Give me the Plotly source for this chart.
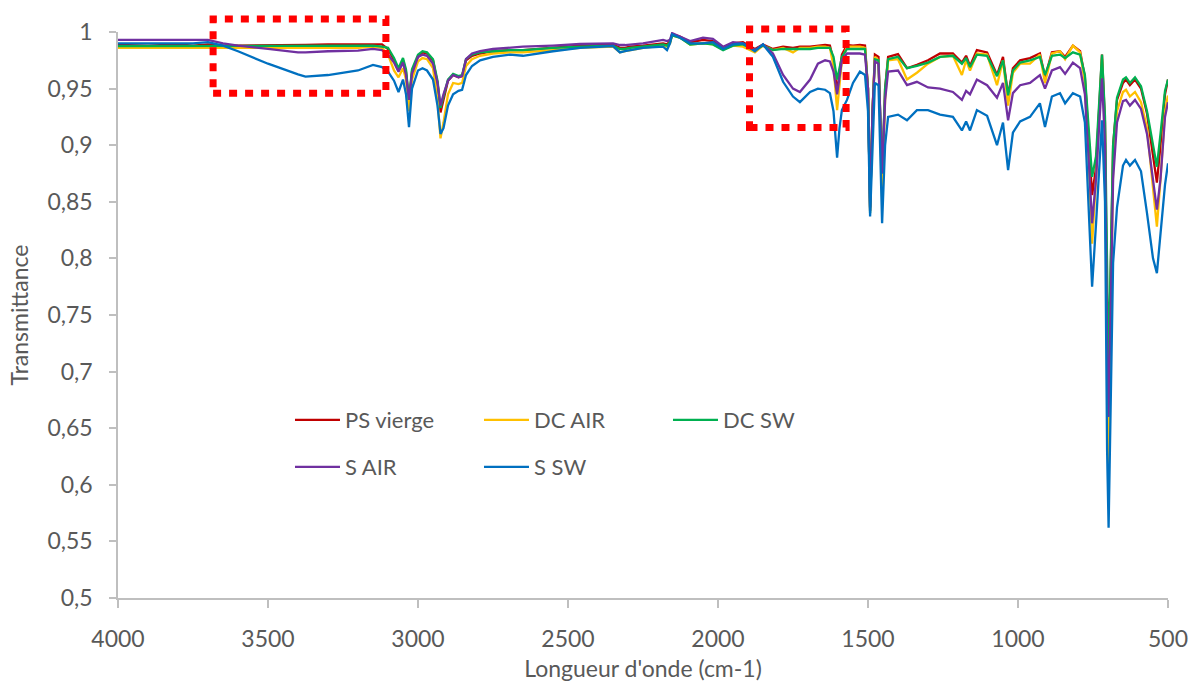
import plotly.graph_objects as go

wavenumber = [4000, 3900, 3800, 3750, 3700, 3650, 3600, 3500, 3400, 3375,
              3300, 3200, 3150, 3120, 3100, 3080, 3065, 3050, 3040, 3030,
              3020, 3000, 2985, 2970, 2950, 2935, 2925, 2915, 2900, 2883,
              2865, 2853, 2840, 2820, 2793, 2750, 2693, 2650, 2550, 2460,
              2350, 2327, 2310, 2293, 2250, 2183, 2170, 2160, 2153, 2127,
              2093, 2050, 2017, 1983, 1950, 1917, 1877, 1850, 1817, 1783,
              1750, 1727, 1693, 1667, 1643, 1627, 1615, 1603, 1595, 1587,
              1570, 1550, 1527, 1510, 1500, 1493, 1485, 1477, 1465, 1453,
              1443, 1433, 1400, 1370, 1337, 1300, 1260, 1217, 1187, 1173,
              1160, 1137, 1103, 1070, 1050, 1033, 1017, 993, 960, 927,
              910, 887, 860, 843, 817, 793, 777, 765, 753, 740,
              720, 710, 703, 698, 690, 683, 670, 650, 640, 627,
              610, 590, 570, 550, 537, 525, 510, 500]

ps_vierge = [.9885, .988, .989, .988, .989, .988, .988, .988, .9885, .9885,
             .989, .989, .989, .989, .985, .975, .966, .975, .965, .938,
             .965, .978, .982, .981, .975, .955, .929, .940, .957, .962,
             .960, .961, .975, .979, .981, .983, .984, .984, .986, .988,
             .989, .986, .986, .987, .988, .990, .989, .992, .998, .996,
             .991, .993, .992, .986, .990, .991, .985, .989, .985, .987,
             .986, .987, .987, .988, .9885, .988, .975, .947, .965, .980,
             .9885, .988, .9885, .988, .950, .842, .930, .980, .978, .870,
             .950, .978, .9805, .968, .971, .975, .981, .981, .973, .979,
             .970, .984, .982, .962, .978, .944, .968, .975, .977, .981,
             .960, .982, .983, .978, .988, .983, .960, .910, .856, .880,
             .980, .920, .750, .690, .800, .900, .940, .955, .958, .953,
             .958, .950, .928, .890, .867, .900, .945, .958]

dc_air = [.986, .986, .986, .986, .986, .986, .986, .986, .986, .986,
          .986, .986, .987, .986, .980, .966, .960, .968, .958, .930,
          .958, .974, .977, .976, .968, .940, .906, .920, .945, .955,
          .954, .955, .970, .976, .979, .981, .982, .982, .984, .986,
          .987, .982, .983, .984, .986, .988, .987, .990, .997, .995,
          .989, .990, .989, .985, .988, .987, .982, .988, .984, .986,
          .982, .986, .986, .987, .987, .986, .970, .931, .955, .975,
          .987, .987, .987, .986, .950, .845, .930, .978, .975, .854,
          .940, .975, .976, .958, .964, .972, .978, .979, .962, .975,
          .966, .981, .980, .953, .975, .935, .964, .972, .972, .980,
          .955, .981, .983, .976, .988, .982, .955, .890, .813, .870,
          .976, .910, .700, .610, .760, .880, .930, .947, .949, .943,
          .947, .938, .915, .860, .828, .870, .930, .944]

dc_sw = [.9875, .9875, .9875, .9875, .9875, .9875, .9875, .9875, .9875, .9875,
         .9875, .9875, .988, .987, .986, .977, .968, .977, .967, .940,
         .967, .980, .983, .982, .976, .957, .933, .943, .958, .963,
         .961, .962, .976, .980, .982, .983, .984, .984, .986, .987,
         .988, .985, .985, .986, .987, .989, .988, .991, .997, .995,
         .989, .990, .989, .984, .988, .989, .984, .988, .984, .985,
         .985, .985, .985, .986, .986, .986, .978, .958, .968, .978,
         .985, .985, .985, .985, .950, .840, .930, .976, .975, .875,
         .950, .976, .978, .968, .970, .973, .978, .979, .972, .977,
         .969, .980, .979, .961, .975, .944, .966, .973, .975, .978,
         .962, .979, .980, .977, .982, .980, .962, .920, .872, .890,
         .980, .925, .760, .700, .810, .900, .942, .958, .960, .955,
         .960, .952, .930, .900, .881, .910, .948, .958]

s_air = [.993, .993, .993, .993, .993, .990, .988, .985, .982, .982,
         .983, .9835, .985, .984, .980, .973, .965, .973, .962, .940,
         .963, .978, .980, .979, .972, .955, .935, .945, .957, .962,
         .960, .961, .976, .981, .983, .985, .986, .987, .988, .9894,
         .990, .9885, .9885, .989, .990, .993, .992, .993, .999, .996,
         .992, .995, .994, .987, .991, .990, .984, .989, .981, .962,
         .950, .947, .958, .972, .975, .974, .965, .945, .960, .975,
         .981, .981, .981, .980, .950, .845, .930, .974, .972, .875,
         .940, .965, .966, .953, .956, .951, .950, .947, .940, .948,
         .945, .958, .953, .942, .955, .922, .946, .953, .955, .962,
         .950, .966, .969, .963, .973, .968, .945, .890, .831, .870,
         .959, .900, .720, .660, .770, .870, .920, .939, .940, .935,
         .940, .932, .910, .870, .843, .870, .925, .938]

s_sw = [.990, .990, .9905, .990, .991, .988, .983, .972, .9625, .9605,
        .962, .966, .971, .969, .965, .957, .947, .958, .945, .916,
        .950, .966, .968, .966, .958, .935, .910, .915, .935, .945,
        .948, .949, .962, .970, .975, .978, .980, .979, .983, .986,
        .9876, .982, .983, .984, .986, .987, .984, .990, .998, .995,
        .990, .990, .991, .985, .989, .990, .983, .989, .978, .956,
        .943, .938, .947, .950, .949, .946, .930, .889, .915, .931,
        .940, .955, .965, .962, .930, .837, .900, .955, .953, .831,
        .900, .925, .927, .922, .931, .931, .927, .925, .913, .921,
        .913, .931, .926, .900, .920, .878, .911, .921, .925, .937,
        .916, .943, .946, .937, .946, .943, .920, .840, .775, .830,
        .922, .850, .630, .562, .700, .796, .845, .882, .887, .882,
        .887, .877, .840, .800, .787, .820, .865, .884]

series_names = ["PS vierge", "DC AIR", "DC SW", "S AIR", "S SW"]
series_values = [ps_vierge, dc_air, dc_sw, s_air, s_sw]
series_colors = ["#C00000", "#FFC000", "#00B050", "#7030A0", "#0070C0"]
series_legend = ["legend", "legend", "legend", "legend2", "legend2"]

y_tick_values = [0.5, 0.55, 0.6, 0.65, 0.7, 0.75, 0.8, 0.85, 0.9, 0.95, 1.0]
y_tick_labels = ["0,5", "0,55", "0,6", "0,65", "0,7", "0,75", "0,8", "0,85", "0,9", "0,95", "1"]
x_tick_values = [4000, 3500, 3000, 2500, 2000, 1500, 1000, 500]

for v in series_values:
    assert len(v) == len(wavenumber)

FONT = "Lato"
TXT = "#595959"
AX = "#BFBFBF"

fig = go.Figure()
for name, vals, col, lg in zip(series_names, series_values, series_colors, series_legend):
    fig.add_trace(go.Scatter(x=wavenumber, y=vals, mode="lines", name=name,
                             line=dict(color=col, width=2.3), legend=lg))

# highlight boxes (dotted red)
for x0, x1, y0, y1 in [(3683, 3107, 0.892, 1.023), (1895, 1573, 0.8313, 1.0053)]:
    fig.add_shape(type="rect", xref="x", yref="paper", x0=x0, x1=x1, y0=y0, y1=y1,
                  line=dict(color="#FF0000", width=7, dash="8px,8px"),
                  fillcolor="rgba(0,0,0,0)", layer="above")

fig.update_layout(
    width=1190, height=682,
    margin=dict(l=118, r=22, t=32, b=84),
    paper_bgcolor="white", plot_bgcolor="white",
    font=dict(family=FONT, color=TXT, size=23),
    xaxis=dict(range=[4000, 500], tickvals=x_tick_values, showgrid=False, zeroline=False,
               showline=True, linecolor=AX, linewidth=1.5, ticks="outside", ticklen=8,
               tickcolor=AX, tickwidth=1.5, tickfont=dict(size=23, color=TXT),
               ticklabelstandoff=12, automargin=False, ticklabeloverflow="allow",
               title=dict(text="Longueur d'onde (cm-1)", font=dict(size=23, color=TXT), standoff=15)),
    yaxis=dict(range=[0.5, 1.0], tickvals=y_tick_values, ticktext=y_tick_labels,
               showgrid=False, zeroline=False, showline=True, linecolor=AX, linewidth=1.5,
               ticks="outside", ticklen=7, tickcolor=AX, tickwidth=1.5,
               tickfont=dict(size=23, color=TXT), ticklabelstandoff=12, automargin=False,
               title=dict(text="Transmittance", font=dict(size=23, color=TXT), standoff=12)),
    legend=dict(orientation="h", x=0.1638, y=0.3145, xanchor="left", yanchor="middle",
                entrywidth=129, entrywidthmode="pixels", itemwidth=45,
                font=dict(size=22, color=TXT), bgcolor="rgba(0,0,0,0)"),
    legend2=dict(orientation="h", x=0.1638, y=0.2314, xanchor="left", yanchor="middle",
                 entrywidth=129, entrywidthmode="pixels", itemwidth=45,
                 font=dict(size=22, color=TXT), bgcolor="rgba(0,0,0,0)"),
)

fig.write_html("out.html", config={"displayModeBar": False},
               post_script="document.body.style.margin='0';document.body.style.overflow='hidden';")
